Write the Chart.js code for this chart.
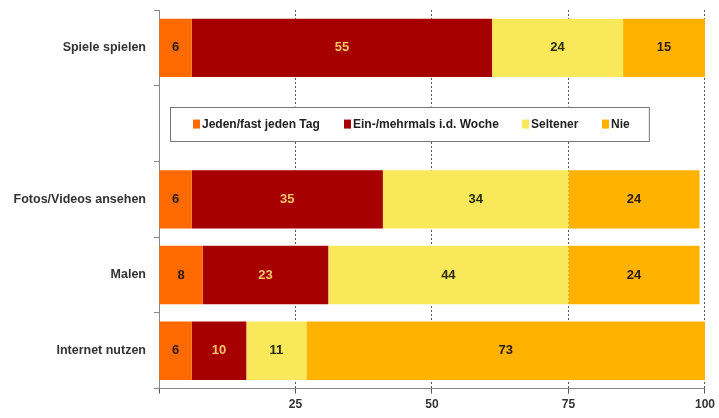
<!DOCTYPE html>
<html>
<head>
<meta charset="utf-8">
<script src="https://cdn.jsdelivr.net/npm/chart.js@4/dist/chart.umd.min.js"></script>
<style>
  html, body { margin: 0; padding: 0; background: #fff; }
  #wrap { width: 719px; height: 418px; }
</style>
</head>
<body>
<div id="wrap"><canvas id="barChart"></canvas></div>
<script>
// empty slot (index 1) is where the legend box sits
let categories = ['Spiele spielen', '', 'Fotos/Videos ansehen', 'Malen', 'Internet nutzen'];
let seriesNames = ['Jeden/fast jeden Tag', 'Ein-/mehrmals i.d. Woche', 'Seltener', 'Nie'];
let daily = [6, null, 6, 8, 6];
let weekly = [55, null, 35, 23, 10];
let seldom = [24, null, 34, 44, 11];
let never = [15, null, 24, 24, 73];
let xTicks = [25, 50, 75, 100];

let colors = ['#ff6a00', '#a60000', '#f9e85a', '#ffb300'];
let labelColors = ['#2a1a10', '#f5c46b', '#2a2a10', '#2a1a10'];
const FONT = '"Liberation Sans", Arial, sans-serif';

// numbers inside the bar segments
const segmentLabels = {
    id: 'segmentLabels',
    afterDatasetsDraw(chart) {
        const ctx = chart.ctx;
        ctx.save();
        ctx.font = 'bold 13px ' + FONT;
        ctx.textAlign = 'center';
        ctx.textBaseline = 'middle';
        chart.data.datasets.forEach(function (ds, di) {
            chart.getDatasetMeta(di).data.forEach(function (bar, i) {
                if (ds.data[i] == null) return;
                let p = bar.getProps(['x', 'y', 'base'], true);
                ctx.fillStyle = labelColors[di];
                ctx.fillText(String(ds.data[i]), (p.x + p.base) / 2, p.y);
            });
        });
        ctx.restore();
    }
};

// legend box drawn in the empty category slot
const boxLegend = {
    id: 'boxLegend',
    afterDraw(chart) {
        const ctx = chart.ctx;
        const xs = chart.scales.x, ys = chart.scales.y;
        let left = xs.getPixelForValue(2);
        let right = xs.getPixelForValue(89.7);
        let cy = ys.getPixelForValue(1);
        let h = 34;
        ctx.save();
        ctx.fillStyle = '#fff';
        ctx.fillRect(left, cy - h / 2, right - left, h);
        ctx.strokeStyle = '#777';
        ctx.lineWidth = 1;
        ctx.strokeRect(Math.round(left) + 0.5, Math.round(cy - h / 2) + 0.5, right - left, h);
        ctx.font = 'bold 12px ' + FONT;
        ctx.textBaseline = 'middle';
        ctx.textAlign = 'left';
        let starts = [193, 344, 522, 602];
        seriesNames.forEach(function (name, i) {
            ctx.fillStyle = colors[i];
            ctx.fillRect(starts[i], cy - 4, 7, 9);
            ctx.fillStyle = '#222';
            ctx.fillText(name, starts[i] + 9, cy + 1);
        });
        ctx.restore();
    }
};

const ctxBar = document.getElementById('barChart').getContext('2d');
let dataSeries = [daily, weekly, seldom, never];
let chartInst = new Chart(ctxBar, {
    type: 'bar',
    data: {
        labels: categories,
        datasets: dataSeries.map(function (d, i) {
            return {
                label: seriesNames[i],
                data: d,
                backgroundColor: colors[i],
                borderWidth: 0,
                barPercentage: 0.77,
                categoryPercentage: 1
            };
        })
    },
    options: {
        indexAxis: 'y',
        responsive: true,
        maintainAspectRatio: false,
        animation: false,
        layout: { padding: { top: 10, right: 14, bottom: 2, left: 4 } },
        plugins: {
            legend: { display: false },
            tooltip: { enabled: false }
        },
        scales: {
            x: {
                stacked: true,
                min: 0,
                max: 100,
                afterBuildTicks: function (scale) {
                    scale.ticks = [0].concat(xTicks).map(function (v) { return { value: v }; });
                },
                ticks: {
                    callback: function (v) { return v === 0 ? '' : v; },
                    color: '#333',
                    font: { family: FONT, size: 12, weight: 'bold' },
                    padding: 4,
                    maxRotation: 0
                },
                grid: {
                    color: function (c) { return c.tick && c.tick.value === 0 ? 'rgba(0,0,0,0)' : '#555'; },
                    lineWidth: 1,
                    tickLength: 5,
                    tickColor: '#555',
                    tickBorderDash: [],
                    z: -1
                },
                border: { display: true, color: '#888', width: 1, dash: [2, 2] }
            },
            y: {
                stacked: true,
                ticks: {
                    color: '#333',
                    font: { family: FONT, size: 12.5, weight: 'bold' },
                    padding: 8
                },
                grid: {
                    drawOnChartArea: false,
                    drawTicks: true,
                    tickLength: 5,
                    tickColor: '#888'
                },
                border: { display: true, color: '#888', width: 1 },
                afterFit: function (scale) {
                    scale.width = 155;
                    scale.paddingTop = 0;
                    scale.paddingBottom = 0;
                }
            }
        }
    },
    plugins: [segmentLabels, boxLegend]
});
</script>
</body>
</html>
